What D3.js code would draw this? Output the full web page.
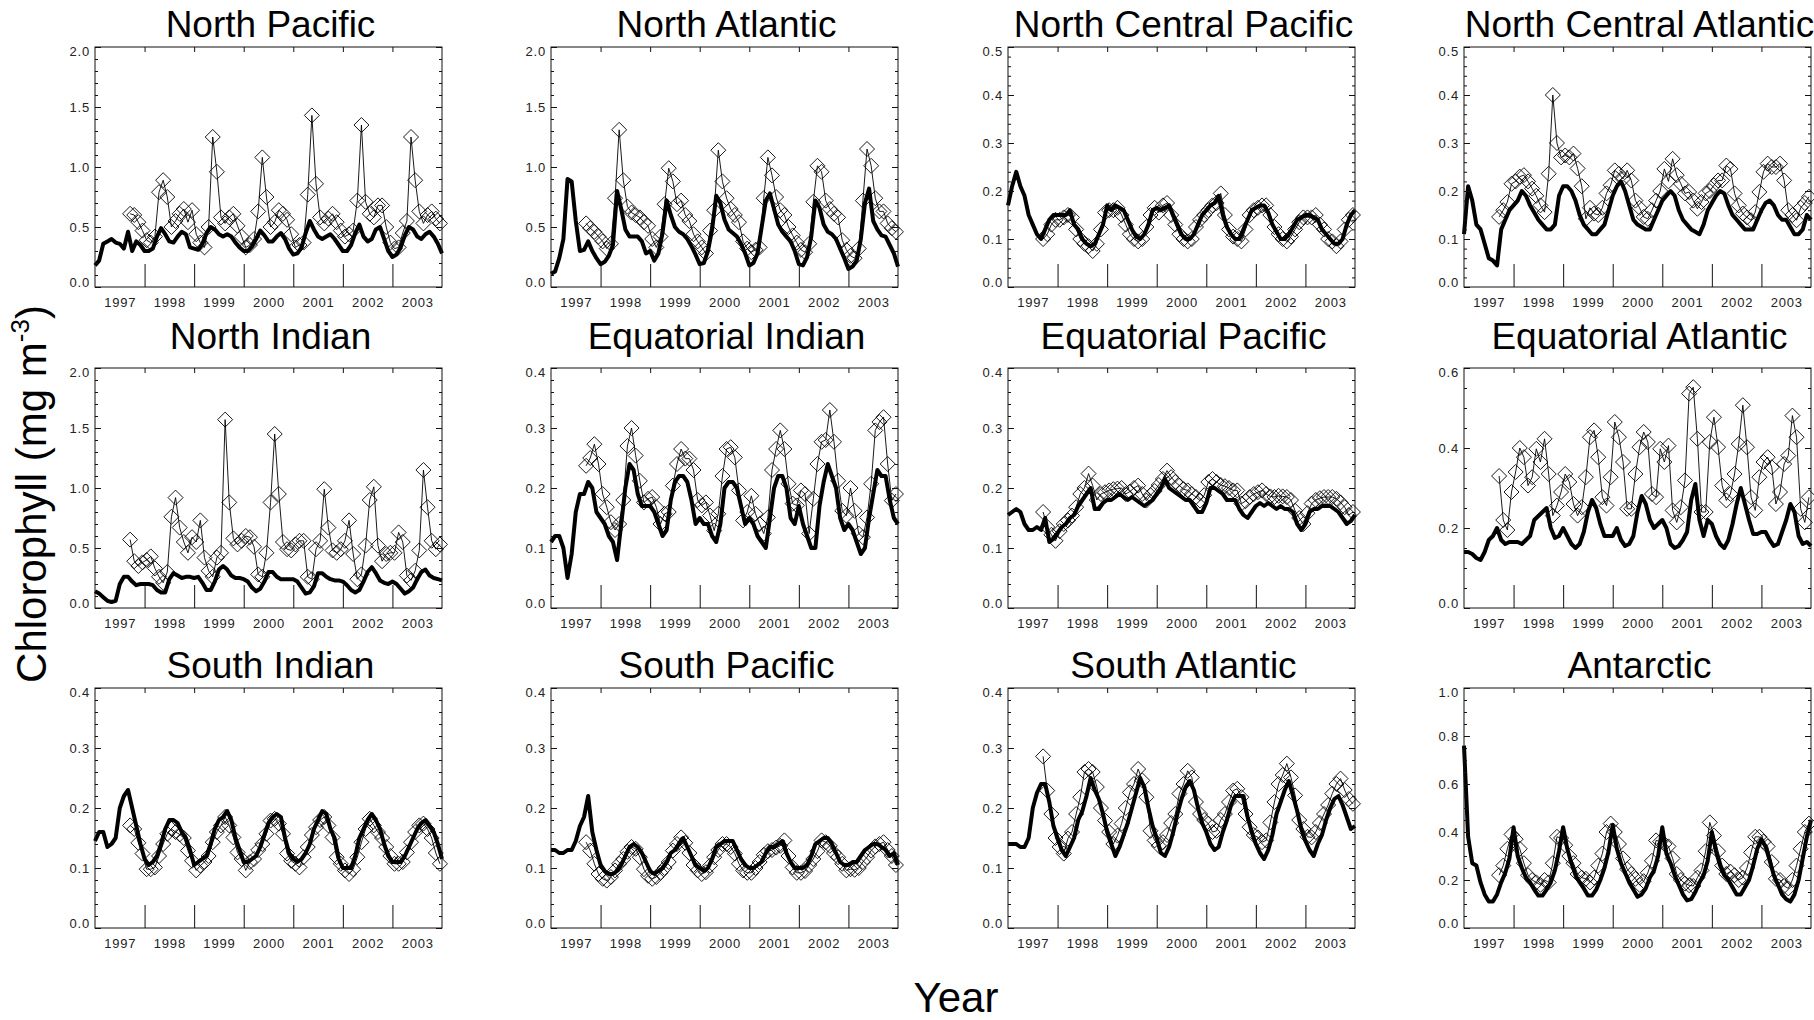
<!DOCTYPE html>
<html><head><meta charset="utf-8">
<script src="https://cdn.jsdelivr.net/npm/d3@7"></script>
<style>body{margin:0;background:#fff}svg{display:block}</style>
</head><body><svg id="c" width="1814" height="1020"></svg>
<script>
const regions = ["North Pacific","North Atlantic","North Central Pacific","North Central Atlantic",
  "North Indian","Equatorial Indian","Equatorial Pacific","Equatorial Atlantic",
  "South Indian","South Pacific","South Atlantic","Antarctic"];
const yMaxima = [2.0,2.0,0.5,0.5, 2.0,0.4,0.4,0.6, 0.4,0.4,0.4,1.0];
const yMajorSteps = [0.5,0.5,0.1,0.1, 0.5,0.1,0.1,0.2, 0.1,0.1,0.1,0.2];
const yMinorSteps = [0.1,0.1,0.02,0.02, 0.1,0.02,0.02,0.05, 0.02,0.02,0.02,0.05];
const yearLabels = ["1997","1998","1999","2000","2001","2002","2003"];
const yearBounds = [1998,1999,2000,2001,2002,2003];

// model (thick line): monthly, Jan 1997 .. Jan 2004
const modelNP=[0.18,0.22,0.36,0.38,0.40,0.37,0.36,0.32,0.46,0.30,0.38,0.35,
 0.30,0.30,0.32,0.42,0.49,0.44,0.38,0.37,0.42,0.46,0.44,0.33,
 0.32,0.31,0.36,0.45,0.50,0.48,0.44,0.42,0.44,0.42,0.37,0.33,
 0.30,0.30,0.34,0.40,0.47,0.43,0.38,0.38,0.42,0.45,0.40,0.32,
 0.27,0.28,0.33,0.45,0.55,0.48,0.42,0.40,0.42,0.44,0.40,0.35,
 0.30,0.30,0.35,0.45,0.52,0.42,0.38,0.40,0.48,0.50,0.40,0.30,
 0.25,0.27,0.33,0.43,0.50,0.48,0.42,0.40,0.44,0.46,0.42,0.36,0.28];
const modelNA=[0.11,0.13,0.24,0.40,0.90,0.88,0.55,0.30,0.31,0.38,0.30,0.24,
 0.19,0.21,0.26,0.35,0.80,0.65,0.48,0.42,0.42,0.42,0.38,0.28,
 0.30,0.22,0.28,0.45,0.72,0.60,0.50,0.46,0.44,0.40,0.34,0.27,
 0.19,0.20,0.30,0.48,0.76,0.70,0.56,0.48,0.45,0.42,0.36,0.28,
 0.18,0.20,0.28,0.50,0.72,0.78,0.65,0.52,0.46,0.42,0.38,0.30,
 0.19,0.18,0.25,0.42,0.72,0.66,0.52,0.46,0.44,0.40,0.32,0.24,
 0.15,0.17,0.22,0.40,0.70,0.82,0.55,0.48,0.43,0.42,0.35,0.28,0.17];
const modelNCP=[0.17,0.21,0.24,0.21,0.19,0.15,0.13,0.11,0.10,0.12,0.14,0.15,
 0.15,0.15,0.15,0.16,0.13,0.12,0.10,0.09,0.085,0.09,0.11,0.13,
 0.17,0.16,0.17,0.165,0.16,0.14,0.12,0.105,0.10,0.11,0.13,0.16,
 0.165,0.16,0.165,0.17,0.15,0.13,0.11,0.10,0.10,0.11,0.13,0.15,
 0.16,0.17,0.175,0.19,0.15,0.125,0.11,0.10,0.10,0.12,0.14,0.16,
 0.165,0.17,0.17,0.155,0.13,0.115,0.10,0.10,0.11,0.125,0.14,0.145,
 0.15,0.15,0.145,0.14,0.12,0.11,0.10,0.09,0.09,0.10,0.13,0.15,0.16];
const modelNCA=[0.11,0.21,0.18,0.13,0.12,0.09,0.06,0.055,0.045,0.12,0.14,0.16,
 0.17,0.18,0.20,0.19,0.17,0.155,0.14,0.13,0.12,0.12,0.13,0.19,
 0.21,0.21,0.20,0.18,0.15,0.13,0.12,0.11,0.11,0.12,0.13,0.16,
 0.19,0.21,0.22,0.20,0.17,0.14,0.13,0.125,0.12,0.12,0.14,0.16,
 0.18,0.19,0.20,0.19,0.16,0.14,0.13,0.12,0.115,0.11,0.13,0.16,
 0.175,0.19,0.20,0.195,0.17,0.15,0.14,0.13,0.12,0.12,0.12,0.14,
 0.16,0.175,0.18,0.17,0.15,0.14,0.14,0.125,0.11,0.11,0.12,0.15,0.14];
const modelNI=[0.14,0.12,0.09,0.06,0.05,0.06,0.20,0.26,0.26,0.22,0.19,0.20,
 0.20,0.20,0.19,0.15,0.13,0.13,0.24,0.29,0.27,0.25,0.26,0.26,
 0.25,0.26,0.21,0.15,0.15,0.22,0.32,0.35,0.32,0.27,0.25,0.25,
 0.24,0.22,0.17,0.14,0.16,0.22,0.30,0.30,0.26,0.24,0.24,0.24,
 0.24,0.22,0.17,0.12,0.13,0.18,0.29,0.29,0.26,0.24,0.23,0.23,
 0.22,0.19,0.15,0.13,0.15,0.22,0.30,0.34,0.29,0.23,0.21,0.20,
 0.22,0.20,0.16,0.12,0.14,0.17,0.24,0.30,0.32,0.27,0.25,0.24,0.23];
const modelEI=[0.11,0.12,0.12,0.10,0.05,0.09,0.16,0.19,0.19,0.21,0.20,0.16,
 0.15,0.14,0.12,0.11,0.08,0.14,0.20,0.24,0.23,0.19,0.17,0.17,
 0.17,0.16,0.14,0.12,0.13,0.18,0.21,0.22,0.22,0.21,0.18,0.14,
 0.15,0.14,0.14,0.12,0.11,0.14,0.20,0.21,0.21,0.20,0.17,0.14,
 0.15,0.14,0.12,0.11,0.10,0.15,0.20,0.22,0.22,0.20,0.15,0.14,
 0.17,0.14,0.12,0.10,0.10,0.17,0.21,0.24,0.22,0.20,0.15,0.13,
 0.14,0.13,0.11,0.09,0.10,0.15,0.19,0.23,0.22,0.22,0.18,0.15,0.14];
const modelEP=[0.155,0.16,0.165,0.16,0.14,0.13,0.13,0.135,0.13,0.15,0.11,0.115,
 0.125,0.135,0.14,0.15,0.155,0.17,0.18,0.19,0.20,0.165,0.165,0.175,
 0.18,0.18,0.185,0.19,0.185,0.18,0.185,0.18,0.175,0.17,0.175,0.18,
 0.19,0.20,0.215,0.20,0.195,0.19,0.185,0.18,0.18,0.17,0.16,0.16,
 0.175,0.20,0.20,0.195,0.19,0.18,0.18,0.18,0.165,0.155,0.15,0.16,
 0.17,0.175,0.17,0.175,0.17,0.165,0.17,0.165,0.165,0.16,0.14,0.13,
 0.14,0.16,0.165,0.165,0.17,0.17,0.17,0.165,0.16,0.15,0.14,0.145,0.155];
const modelEA=[0.14,0.14,0.135,0.125,0.12,0.14,0.17,0.18,0.20,0.17,0.16,0.165,
 0.165,0.165,0.16,0.17,0.18,0.22,0.23,0.24,0.25,0.20,0.175,0.18,
 0.20,0.18,0.16,0.15,0.16,0.19,0.24,0.27,0.25,0.21,0.18,0.18,
 0.18,0.20,0.17,0.155,0.16,0.18,0.24,0.28,0.26,0.22,0.20,0.21,
 0.22,0.20,0.16,0.15,0.155,0.17,0.19,0.27,0.31,0.22,0.18,0.22,
 0.21,0.18,0.16,0.15,0.17,0.21,0.26,0.30,0.26,0.22,0.185,0.185,
 0.19,0.19,0.17,0.155,0.16,0.19,0.22,0.26,0.24,0.18,0.16,0.165,0.155];
const modelSI=[0.145,0.16,0.16,0.135,0.14,0.15,0.20,0.22,0.23,0.20,0.17,0.14,
 0.115,0.105,0.11,0.12,0.14,0.165,0.18,0.18,0.175,0.16,0.15,0.13,
 0.105,0.11,0.115,0.12,0.14,0.165,0.18,0.185,0.195,0.18,0.15,0.13,
 0.11,0.11,0.115,0.12,0.135,0.155,0.175,0.185,0.19,0.185,0.15,0.125,
 0.115,0.11,0.115,0.125,0.14,0.165,0.18,0.195,0.19,0.165,0.15,0.115,
 0.10,0.10,0.10,0.12,0.15,0.165,0.18,0.19,0.18,0.165,0.14,0.12,
 0.11,0.11,0.11,0.12,0.135,0.15,0.165,0.175,0.18,0.17,0.16,0.14,0.115];
const modelSP=[0.13,0.13,0.125,0.125,0.13,0.13,0.145,0.17,0.185,0.22,0.16,0.13,
 0.105,0.095,0.09,0.09,0.095,0.105,0.12,0.135,0.14,0.135,0.125,0.11,
 0.095,0.09,0.095,0.10,0.11,0.125,0.13,0.14,0.15,0.135,0.12,0.105,
 0.10,0.095,0.10,0.115,0.135,0.14,0.145,0.145,0.145,0.13,0.115,0.105,
 0.10,0.10,0.105,0.11,0.125,0.135,0.135,0.14,0.145,0.125,0.11,0.10,
 0.10,0.10,0.105,0.12,0.14,0.145,0.15,0.15,0.14,0.125,0.11,0.105,
 0.105,0.11,0.11,0.12,0.13,0.135,0.14,0.14,0.135,0.13,0.12,0.125,0.105];
const modelSA=[0.14,0.14,0.14,0.135,0.135,0.15,0.20,0.225,0.24,0.24,0.21,0.17,
 0.15,0.13,0.12,0.135,0.15,0.18,0.195,0.22,0.25,0.23,0.215,0.19,
 0.16,0.14,0.12,0.135,0.155,0.175,0.20,0.225,0.25,0.235,0.20,0.17,
 0.15,0.125,0.12,0.135,0.16,0.19,0.215,0.235,0.245,0.23,0.20,0.175,
 0.16,0.14,0.13,0.135,0.16,0.18,0.205,0.22,0.22,0.22,0.185,0.16,
 0.14,0.125,0.115,0.13,0.155,0.19,0.21,0.23,0.245,0.22,0.195,0.165,
 0.145,0.13,0.12,0.14,0.155,0.18,0.20,0.215,0.22,0.205,0.185,0.165,0.17];
const modelAN=[0.76,0.38,0.27,0.26,0.19,0.14,0.11,0.11,0.14,0.19,0.23,0.29,
 0.42,0.30,0.25,0.21,0.19,0.16,0.135,0.135,0.16,0.19,0.24,0.32,
 0.42,0.33,0.27,0.22,0.19,0.165,0.135,0.135,0.16,0.20,0.25,0.32,
 0.43,0.33,0.27,0.23,0.19,0.16,0.13,0.14,0.165,0.21,0.24,0.30,
 0.42,0.31,0.27,0.22,0.18,0.14,0.115,0.12,0.15,0.19,0.22,0.28,
 0.40,0.32,0.26,0.22,0.20,0.17,0.14,0.14,0.17,0.20,0.26,0.33,
 0.37,0.34,0.28,0.22,0.18,0.14,0.12,0.11,0.14,0.20,0.29,0.38,0.45];

// satellite (diamonds): monthly means, Sep 1997 .. Dec 2003
const satNP=[0.61,0.60,0.54,0.47,
 0.39,0.37,0.42,0.79,0.89,0.75,0.50,0.55,0.61,0.65,0.54,0.64,
 0.44,0.37,0.33,0.50,1.25,0.96,0.58,0.53,0.58,0.61,0.51,0.42,
 0.33,0.35,0.40,0.63,1.08,0.75,0.50,0.54,0.64,0.61,0.56,0.44,
 0.33,0.35,0.37,0.77,1.43,0.86,0.58,0.53,0.57,0.61,0.54,0.47,
 0.42,0.44,0.47,0.72,1.35,0.71,0.61,0.58,0.68,0.68,0.50,0.37,
 0.32,0.33,0.45,0.55,1.25,0.89,0.63,0.53,0.60,0.63,0.57,0.53];
const satNA=[0.53,0.49,0.46,0.42,
 0.38,0.32,0.36,0.74,1.31,0.89,0.67,0.62,0.60,0.58,0.54,0.51,
 0.40,0.33,0.42,0.69,0.99,0.88,0.69,0.72,0.60,0.55,0.44,0.38,
 0.33,0.28,0.47,0.64,1.14,0.88,0.74,0.65,0.60,0.54,0.38,0.32,
 0.29,0.31,0.33,0.74,1.08,0.93,0.75,0.64,0.60,0.50,0.43,0.37,
 0.31,0.29,0.36,0.71,1.01,0.96,0.72,0.65,0.61,0.58,0.39,0.31,
 0.26,0.24,0.32,0.72,1.15,1.01,0.74,0.63,0.63,0.53,0.49,0.46];
const satNCP=[0.10,0.11,0.13,0.14,
 0.14,0.145,0.15,0.145,0.12,0.10,0.09,0.085,0.075,0.09,0.12,0.155,
 0.16,0.16,0.165,0.15,0.13,0.11,0.10,0.095,0.10,0.125,0.15,0.165,
 0.155,0.17,0.175,0.15,0.13,0.11,0.10,0.095,0.10,0.125,0.14,0.15,
 0.16,0.17,0.175,0.195,0.15,0.12,0.105,0.10,0.095,0.12,0.15,0.16,
 0.165,0.17,0.17,0.15,0.125,0.11,0.10,0.095,0.105,0.12,0.135,0.145,
 0.145,0.145,0.15,0.13,0.12,0.10,0.095,0.085,0.095,0.12,0.14,0.15];
const satNCA=[0.146,0.16,0.177,0.215,
 0.22,0.23,0.233,0.22,0.205,0.19,0.17,0.156,0.236,0.40,0.30,0.27,
 0.274,0.27,0.278,0.247,0.21,0.142,0.165,0.153,0.15,0.165,0.195,0.212,
 0.243,0.236,0.225,0.243,0.222,0.18,0.165,0.146,0.142,0.16,0.18,0.20,
 0.246,0.22,0.267,0.233,0.215,0.195,0.198,0.18,0.163,0.177,0.195,0.20,
 0.212,0.222,0.222,0.253,0.246,0.195,0.17,0.153,0.145,0.139,0.156,0.198,
 0.24,0.257,0.25,0.25,0.257,0.222,0.16,0.15,0.139,0.165,0.175,0.188];
const satNI=[0.57,0.39,0.35,0.38,
 0.40,0.43,0.33,0.26,0.21,0.30,0.76,0.92,0.67,0.55,0.46,0.59,
 0.55,0.73,0.42,0.31,0.26,0.42,0.46,1.57,0.88,0.58,0.53,0.56,
 0.60,0.59,0.51,0.28,0.26,0.46,0.88,1.45,0.95,0.55,0.49,0.48,
 0.53,0.56,0.56,0.26,0.24,0.49,0.56,0.99,0.67,0.48,0.46,0.49,
 0.56,0.73,0.45,0.24,0.28,0.52,0.90,1.01,0.52,0.39,0.45,0.46,
 0.46,0.63,0.55,0.27,0.23,0.31,0.48,1.15,0.84,0.56,0.49,0.53];
const satEI=[0.237,0.25,0.273,0.24,
 0.19,0.168,0.143,0.13,0.14,0.18,0.27,0.30,0.254,0.212,0.176,0.182,
 0.185,0.168,0.14,0.157,0.16,0.204,0.24,0.265,0.249,0.249,0.23,0.18,
 0.171,0.176,0.154,0.129,0.157,0.22,0.265,0.268,0.251,0.196,0.146,0.16,
 0.187,0.157,0.14,0.124,0.151,0.23,0.265,0.296,0.265,0.207,0.174,0.171,
 0.196,0.19,0.124,0.182,0.24,0.277,0.28,0.33,0.277,0.212,0.162,0.154,
 0.2,0.162,0.124,0.118,0.151,0.207,0.296,0.31,0.318,0.24,0.179,0.19];
const satEP=[0.16,0.135,0.122,0.112,
 0.128,0.14,0.146,0.154,0.168,0.19,0.20,0.224,0.204,0.18,0.19,0.193,
 0.196,0.198,0.199,0.20,0.19,0.194,0.20,0.204,0.19,0.179,0.188,0.195,
 0.205,0.215,0.229,0.218,0.21,0.204,0.198,0.196,0.19,0.185,0.179,0.188,
 0.21,0.215,0.21,0.205,0.203,0.20,0.196,0.196,0.174,0.178,0.185,0.19,
 0.193,0.196,0.19,0.186,0.185,0.187,0.186,0.185,0.18,0.162,0.15,0.14,
 0.158,0.174,0.18,0.183,0.185,0.185,0.185,0.182,0.176,0.168,0.155,0.16];
const satEA=[0.33,0.22,0.195,0.29,
 0.34,0.40,0.377,0.306,0.327,0.398,0.365,0.423,0.335,0.231,0.256,0.29,
 0.335,0.315,0.26,0.231,0.252,0.327,0.427,0.444,0.377,0.277,0.256,0.327,
 0.465,0.427,0.365,0.248,0.248,0.335,0.402,0.44,0.415,0.285,0.277,0.398,
 0.365,0.406,0.244,0.214,0.252,0.319,0.536,0.552,0.423,0.24,0.24,0.415,
 0.477,0.402,0.306,0.269,0.285,0.335,0.41,0.507,0.402,0.277,0.244,0.327,
 0.365,0.377,0.352,0.26,0.29,0.36,0.381,0.481,0.427,0.248,0.214,0.277];
const satSI=[0.171,0.165,0.142,0.124,
 0.098,0.098,0.101,0.12,0.14,0.157,0.165,0.16,0.156,0.15,0.129,0.112,
 0.096,0.104,0.11,0.12,0.143,0.16,0.171,0.185,0.171,0.151,0.126,0.115,
 0.096,0.11,0.115,0.13,0.14,0.157,0.179,0.182,0.174,0.157,0.124,0.112,
 0.107,0.101,0.118,0.135,0.155,0.168,0.18,0.185,0.171,0.151,0.118,0.107,
 0.096,0.09,0.098,0.118,0.143,0.165,0.182,0.171,0.16,0.15,0.135,0.12,
 0.107,0.107,0.11,0.126,0.143,0.16,0.171,0.174,0.165,0.15,0.125,0.107];
const satSP=[0.143,0.129,0.107,0.09,
 0.082,0.079,0.085,0.096,0.107,0.115,0.127,0.135,0.132,0.118,0.098,0.087,
 0.082,0.085,0.092,0.10,0.11,0.129,0.14,0.151,0.142,0.125,0.105,0.096,
 0.09,0.093,0.104,0.118,0.13,0.14,0.14,0.135,0.124,0.107,0.096,0.092,
 0.092,0.10,0.11,0.122,0.128,0.13,0.134,0.137,0.146,0.12,0.101,0.092,
 0.092,0.095,0.105,0.115,0.128,0.146,0.143,0.137,0.125,0.118,0.107,0.096,
 0.098,0.097,0.10,0.11,0.118,0.129,0.136,0.14,0.143,0.13,0.12,0.105];
const satSA=[0.286,0.229,0.19,0.15,
 0.135,0.124,0.149,0.16,0.19,0.218,0.26,0.265,0.26,0.235,0.20,0.179,
 0.16,0.14,0.154,0.174,0.20,0.226,0.24,0.265,0.246,0.218,0.162,0.146,
 0.137,0.143,0.155,0.175,0.19,0.224,0.24,0.262,0.251,0.21,0.19,0.18,
 0.174,0.16,0.162,0.18,0.19,0.21,0.229,0.232,0.218,0.19,0.168,0.155,
 0.151,0.143,0.146,0.176,0.21,0.24,0.255,0.274,0.251,0.221,0.18,0.165,
 0.152,0.151,0.16,0.175,0.19,0.205,0.224,0.24,0.249,0.23,0.215,0.207];
const satAN=[0.22,0.26,0.33,0.39,
 0.37,0.33,0.27,0.22,0.20,0.19,0.18,0.20,0.19,0.27,0.38,0.375,
 0.345,0.30,0.27,0.225,0.21,0.205,0.19,0.21,0.26,0.31,0.40,0.435,
 0.40,0.35,0.29,0.245,0.225,0.205,0.18,0.195,0.23,0.28,0.365,0.36,
 0.35,0.34,0.29,0.225,0.20,0.185,0.178,0.175,0.21,0.24,0.32,0.44,
 0.385,0.32,0.26,0.225,0.235,0.22,0.20,0.21,0.25,0.315,0.38,0.38,
 0.36,0.34,0.275,0.205,0.20,0.175,0.165,0.20,0.26,0.33,0.40,0.435];

const modelSeries=[modelNP,modelNA,modelNCP,modelNCA,modelNI,modelEI,modelEP,modelEA,modelSI,modelSP,modelSA,modelAN];
const satSeries=[satNP,satNA,satNCP,satNCA,satNI,satEI,satEP,satEA,satSI,satSP,satSA,satAN];

const svg = d3.select("#c");
const colLeft=[95,551,1008,1464], rowTop=[47,368,688], titleGap=[10,19,10];
const pw=347, ph=240;
const x = d3.scaleLinear().domain([1997,2004]).range([0,pw]);
const tickFont = "'Liberation Sans', Arial, sans-serif";
const ink = "#111";

regions.forEach((name, idx) => {
  const col = idx%4, row = Math.floor(idx/4);
  const g = svg.append("g").attr("transform",`translate(${colLeft[col]},${rowTop[row]})`);
  const ymax = yMaxima[idx], step = yMajorSteps[idx], mstep = yMinorSteps[idx];
  const y = d3.scaleLinear().domain([0,ymax]).range([ph,0]);
  const major = d3.range(0, ymax+step/2, step);
  const minor = d3.range(0, ymax+mstep/2, mstep).filter(v => major.every(m => Math.abs(m-v)>1e-9));

  svg.append("text").attr("x", colLeft[col]+pw/2+2).attr("y", rowTop[row]-titleGap[row])
    .attr("text-anchor","middle").attr("font-family","'Liberation Sans', Arial, sans-serif")
    .attr("font-size",37).attr("fill","#000").text(name);

  const lineM = d3.line().x((d,i)=>x(1997+i/12)).y(d=>y(d));
  g.append("path").datum(modelSeries[idx]).attr("d",lineM)
    .attr("fill","none").attr("stroke","#000").attr("stroke-width",4).attr("stroke-linejoin","round");

  const tS = (i)=>1997+(8.5+i)/12;
  const lineS = d3.line().x((d,i)=>x(tS(i))).y(d=>y(d));
  g.append("path").datum(satSeries[idx]).attr("d",lineS)
    .attr("fill","none").attr("stroke","#000").attr("stroke-width",0.9);
  const r = 7.5;
  g.selectAll("path.dm").data(satSeries[idx]).join("path").attr("class","dm")
    .attr("d",(d,i)=>{const cx=x(tS(i)), cy=y(d); return `M${cx},${cy-r}L${cx+r},${cy}L${cx},${cy+r}L${cx-r},${cy}Z`;})
    .attr("fill","none").attr("stroke","#000").attr("stroke-width",0.9);

  const styleAxis = sel => { sel.select(".domain").remove(); sel.selectAll("line").attr("stroke",ink).attr("stroke-width",1); };
  const yAxL = g.append("g").call(d3.axisLeft(y).tickValues(major).tickSize(-6).tickPadding(5).tickFormat(d3.format(".1f")));
  styleAxis(yAxL);
  yAxL.selectAll("text").attr("font-family",tickFont).attr("font-size",13).attr("letter-spacing",0.8).attr("fill","#222")
    .attr("dy",(d,i)=> i===0 ? "-0.05em" : (i===major.length-1 ? "0.68em" : "0.32em"));
  styleAxis(g.append("g").call(d3.axisLeft(y).tickValues(minor).tickSize(-3).tickFormat("")));
  styleAxis(g.append("g").attr("transform",`translate(${pw},0)`).call(d3.axisRight(y).tickValues(major).tickSize(-6).tickFormat("")));
  styleAxis(g.append("g").attr("transform",`translate(${pw},0)`).call(d3.axisRight(y).tickValues(minor).tickSize(-3).tickFormat("")));
  styleAxis(g.append("g").attr("transform",`translate(0,${ph})`).call(d3.axisBottom(x).tickValues(yearBounds).tickSize(-23).tickFormat("")));
  styleAxis(g.append("g").call(d3.axisTop(x).tickValues(yearBounds).tickSize(-5).tickFormat("")));
  const xl = g.append("g").attr("transform",`translate(0,${ph})`)
    .call(d3.axisBottom(x).tickValues(yearLabels.map(s=>+s+0.5)).tickSize(0).tickPadding(11).tickFormat((d,i)=>yearLabels[i]));
  xl.select(".domain").remove();
  xl.selectAll("text").attr("font-family",tickFont).attr("font-size",13).attr("letter-spacing",0.8).attr("fill","#222");

  g.append("rect").attr("x",0).attr("y",0).attr("width",pw).attr("height",ph)
    .attr("fill","none").attr("stroke",ink).attr("stroke-width",1);
});

svg.append("text").attr("transform","translate(46,494) rotate(-90)").attr("text-anchor","middle")
  .attr("font-family","'Liberation Sans', Arial, sans-serif").attr("font-size",42).attr("fill","#000")
  .call(t=>{ t.append("tspan").text("Chlorophyll (mg m");
             t.append("tspan").attr("font-size",26).attr("dy",-17).text("-3");
             t.append("tspan").attr("dy",17).text(")"); });
svg.append("text").attr("x",956).attr("y",1012).attr("text-anchor","middle")
  .attr("font-family","'Liberation Sans', Arial, sans-serif").attr("font-size",42).attr("fill","#000").text("Year");
</script></body></html>
